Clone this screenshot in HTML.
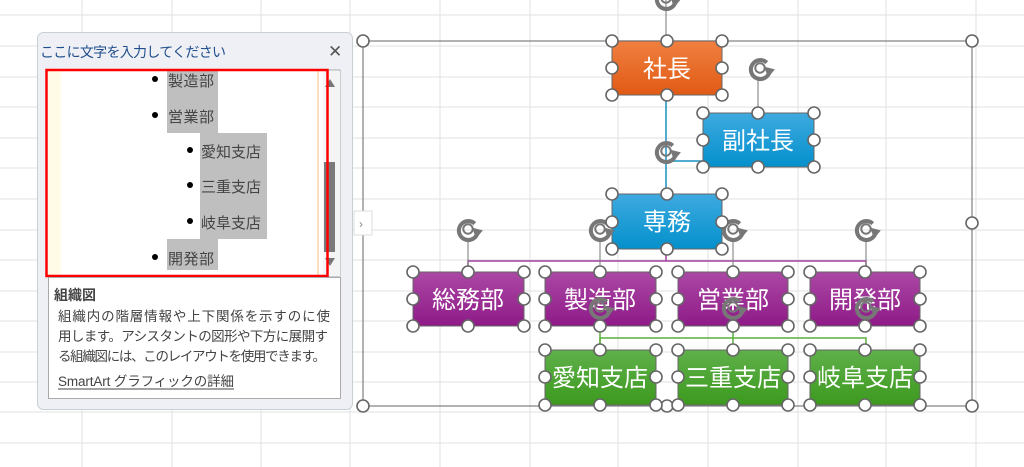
<!DOCTYPE html>
<html><head><meta charset="utf-8"><style>
body{margin:0;width:1024px;height:467px;overflow:hidden;background:#fff;font-family:"Liberation Sans","Noto Sans CJK JP",sans-serif;}
svg{position:absolute;left:0;top:0}
.t{font-family:"Liberation Sans","Noto Sans CJK JP",sans-serif}
</style></head><body>
<svg width="1024" height="467" viewBox="0 0 1024 467">
<defs>
<linearGradient id="go" x1="0" y1="0" x2="0" y2="1"><stop offset="0" stop-color="#f08040"/><stop offset="1" stop-color="#e05a14"/></linearGradient>
<linearGradient id="gb" x1="0" y1="0" x2="0" y2="1"><stop offset="0" stop-color="#3eaae0"/><stop offset="1" stop-color="#0490cc"/></linearGradient>
<linearGradient id="gp" x1="0" y1="0" x2="0" y2="1"><stop offset="0" stop-color="#ab48a4"/><stop offset="1" stop-color="#8e1a88"/></linearGradient>
<linearGradient id="gg" x1="0" y1="0" x2="0" y2="1"><stop offset="0" stop-color="#5fb04a"/><stop offset="1" stop-color="#3c9a1e"/></linearGradient>
<g id="rot"><g transform="scale(1.35)"><path d="M5 -4 A7 7 0 1 0 7 3" fill="none" stroke="#777" stroke-width="3"/><path d="M3 -1 L11 1 L6 7 Z" fill="#777"/><circle r="3.5" fill="none" stroke="#777" stroke-width="1.5"/></g></g>
</defs>
<g stroke="#e2e2e2" stroke-width="1">
<line x1="82" y1="0" x2="82" y2="467"/><line x1="172" y1="0" x2="172" y2="467"/><line x1="261" y1="0" x2="261" y2="467"/><line x1="350" y1="0" x2="350" y2="467"/><line x1="440" y1="0" x2="440" y2="467"/><line x1="530" y1="0" x2="530" y2="467"/><line x1="618" y1="0" x2="618" y2="467"/><line x1="708" y1="0" x2="708" y2="467"/><line x1="798" y1="0" x2="798" y2="467"/><line x1="886" y1="0" x2="886" y2="467"/><line x1="976" y1="0" x2="976" y2="467"/>
<line x1="0" y1="15" x2="1024" y2="15"/><line x1="0" y1="46" x2="1024" y2="46"/><line x1="0" y1="77" x2="1024" y2="77"/><line x1="0" y1="107" x2="1024" y2="107"/><line x1="0" y1="138" x2="1024" y2="138"/><line x1="0" y1="168" x2="1024" y2="168"/><line x1="0" y1="199" x2="1024" y2="199"/><line x1="0" y1="230" x2="1024" y2="230"/><line x1="0" y1="260" x2="1024" y2="260"/><line x1="0" y1="291" x2="1024" y2="291"/><line x1="0" y1="321" x2="1024" y2="321"/><line x1="0" y1="352" x2="1024" y2="352"/><line x1="0" y1="382" x2="1024" y2="382"/><line x1="0" y1="412" x2="1024" y2="412"/><line x1="0" y1="443" x2="1024" y2="443"/>
</g>
<rect x="363" y="41" width="609" height="365" fill="none" stroke="#888" stroke-width="1.3"/>
<line x1="666" y1="95" x2="666" y2="193" stroke="#1a8fc0" stroke-width="1.5"/>
<line x1="666" y1="161" x2="703" y2="161" stroke="#1a8fc0" stroke-width="1.5"/>
<polyline points="468,272 468,261 866,261 866,272" fill="none" stroke="#a040a0" stroke-width="1.5"/>
<line x1="666" y1="249" x2="666" y2="261" stroke="#a040a0" stroke-width="1.5"/>
<polyline points="600,349 600,338 866,338 866,349" fill="none" stroke="#5aaf3c" stroke-width="1.5"/>
<line x1="733" y1="326" x2="733" y2="349" stroke="#5aaf3c" stroke-width="1.5"/>
<line x1="600" y1="326" x2="600" y2="349" stroke="#5aaf3c" stroke-width="1.5"/>
<g stroke="#777" stroke-width="1"><line x1="666" y1="0" x2="666" y2="40"/><line x1="758" y1="78" x2="758" y2="112"/><line x1="468" y1="238" x2="468" y2="272"/><line x1="600" y1="238" x2="600" y2="272"/><line x1="733" y1="238" x2="733" y2="272"/><line x1="866" y1="238" x2="866" y2="272"/></g>
<g stroke="#666" stroke-width="1">
<rect x="612" y="41" width="110" height="54" fill="url(#go)"/>
<rect x="703" y="113" width="111" height="54" fill="url(#gb)"/>
<rect x="612" y="194" width="110" height="55" fill="url(#gb)"/>
<rect x="413" y="272" width="111" height="54" fill="url(#gp)"/>
<rect x="545" y="272" width="111" height="54" fill="url(#gp)"/>
<rect x="678" y="272" width="110" height="54" fill="url(#gp)"/>
<rect x="810" y="272" width="110" height="54" fill="url(#gp)"/>
<rect x="545" y="350" width="111" height="55" fill="url(#gg)"/>
<rect x="678" y="350" width="110" height="55" fill="url(#gg)"/>
<rect x="810" y="350" width="110" height="55" fill="url(#gg)"/>
</g>
<g class="t" fill="#fff" font-size="24" text-anchor="middle">
<text x="667" y="77">社長</text><text x="758" y="149">副社長</text><text x="667" y="230">専務</text>
<text x="468" y="308">総務部</text><text x="600" y="308">製造部</text><text x="733" y="308">営業部</text><text x="865" y="308">開発部</text>
<text x="600" y="386">愛知支店</text><text x="733" y="386">三重支店</text><text x="865" y="386">岐阜支店</text>
</g>
<use href="#rot" x="666" y="-2"/><use href="#rot" x="760" y="68"/><use href="#rot" x="666" y="151"/>
<use href="#rot" x="468" y="229"/><use href="#rot" x="600" y="229"/><use href="#rot" x="733" y="229"/><use href="#rot" x="866" y="229"/>
<use href="#rot" x="600" y="307"/><use href="#rot" x="733" y="307"/><use href="#rot" x="866" y="307"/>
<g fill="#fff" stroke="#666" stroke-width="1.6">
<circle cx="363" cy="41" r="6"/><circle cx="972" cy="41" r="6"/><circle cx="972" cy="223" r="6"/><circle cx="363" cy="406" r="6"/><circle cx="972" cy="406" r="6"/><circle cx="667" cy="406" r="6"/>
<circle cx="612" cy="41" r="6"/><circle cx="667" cy="41" r="6"/><circle cx="722" cy="41" r="6"/><circle cx="612" cy="68" r="6"/><circle cx="722" cy="68" r="6"/><circle cx="612" cy="95" r="6"/><circle cx="667" cy="95" r="6"/><circle cx="722" cy="95" r="6"/>
<circle cx="703" cy="113" r="6"/><circle cx="758" cy="113" r="6"/><circle cx="814" cy="113" r="6"/><circle cx="703" cy="140" r="6"/><circle cx="814" cy="140" r="6"/><circle cx="703" cy="167" r="6"/><circle cx="758" cy="167" r="6"/><circle cx="814" cy="167" r="6"/>
<circle cx="612" cy="194" r="6"/><circle cx="667" cy="194" r="6"/><circle cx="722" cy="194" r="6"/><circle cx="612" cy="222" r="6"/><circle cx="722" cy="222" r="6"/><circle cx="612" cy="249" r="6"/><circle cx="667" cy="249" r="6"/><circle cx="722" cy="249" r="6"/>
<circle cx="413" cy="272" r="6"/><circle cx="468" cy="272" r="6"/><circle cx="524" cy="272" r="6"/><circle cx="413" cy="299" r="6"/><circle cx="524" cy="299" r="6"/><circle cx="413" cy="326" r="6"/><circle cx="468" cy="326" r="6"/><circle cx="524" cy="326" r="6"/>
<circle cx="545" cy="272" r="6"/><circle cx="600" cy="272" r="6"/><circle cx="656" cy="272" r="6"/><circle cx="545" cy="299" r="6"/><circle cx="656" cy="299" r="6"/><circle cx="545" cy="326" r="6"/><circle cx="600" cy="326" r="6"/><circle cx="656" cy="326" r="6"/>
<circle cx="678" cy="272" r="6"/><circle cx="733" cy="272" r="6"/><circle cx="788" cy="272" r="6"/><circle cx="678" cy="299" r="6"/><circle cx="788" cy="299" r="6"/><circle cx="678" cy="326" r="6"/><circle cx="733" cy="326" r="6"/><circle cx="788" cy="326" r="6"/>
<circle cx="810" cy="272" r="6"/><circle cx="865" cy="272" r="6"/><circle cx="920" cy="272" r="6"/><circle cx="810" cy="299" r="6"/><circle cx="920" cy="299" r="6"/><circle cx="810" cy="326" r="6"/><circle cx="865" cy="326" r="6"/><circle cx="920" cy="326" r="6"/>
<circle cx="545" cy="350" r="6"/><circle cx="600" cy="350" r="6"/><circle cx="656" cy="350" r="6"/><circle cx="545" cy="377" r="6"/><circle cx="656" cy="377" r="6"/><circle cx="545" cy="405" r="6"/><circle cx="600" cy="405" r="6"/><circle cx="656" cy="405" r="6"/>
<circle cx="678" cy="350" r="6"/><circle cx="733" cy="350" r="6"/><circle cx="788" cy="350" r="6"/><circle cx="678" cy="377" r="6"/><circle cx="788" cy="377" r="6"/><circle cx="678" cy="405" r="6"/><circle cx="733" cy="405" r="6"/><circle cx="788" cy="405" r="6"/>
<circle cx="810" cy="350" r="6"/><circle cx="865" cy="350" r="6"/><circle cx="920" cy="350" r="6"/><circle cx="810" cy="377" r="6"/><circle cx="920" cy="377" r="6"/><circle cx="810" cy="405" r="6"/><circle cx="865" cy="405" r="6"/><circle cx="920" cy="405" r="6"/>
</g>
<rect x="354" y="211" width="18" height="24" fill="#fff" stroke="#ddd"/>
<text x="359" y="228" font-size="12" fill="#888" class="t">›</text>
<rect x="37.5" y="32.5" width="315" height="377" rx="6" fill="#eff0f5" stroke="#c8d0d4"/>
<text x="40" y="57" class="t" font-size="14" fill="#1f4e8c" textLength="186">ここに文字を入力してください</text>
<text x="328" y="57" class="t" font-size="17" fill="#555">✕</text>
<rect x="47" y="70" width="293" height="206" fill="#fff" stroke="#aaa"/>
<rect x="48" y="71" width="13" height="205" fill="#fffbe6"/>
<line x1="318" y1="71" x2="318" y2="276" stroke="#f5c080"/>
<rect x="323" y="71" width="17" height="205" fill="#f4f4f4"/>
<rect x="324" y="162" width="11" height="90" fill="#7a7a7a"/>
<path d="M325 87 L330 79 L335 87 Z M325 258 L330 266 L335 258 Z" fill="#777"/>
<path d="M167 71 H218 V133 H267 V239 H218 V270 H167 V239 H200 V133 H167 Z" fill="#bfbfbf"/>
<g fill="#000"><circle cx="155" cy="79" r="3"/><circle cx="155" cy="115" r="3"/><circle cx="190" cy="150" r="3"/><circle cx="190" cy="185" r="3"/><circle cx="190" cy="221" r="3"/><circle cx="155" cy="257" r="3"/></g>
<g class="t" font-size="15" fill="#444">
<text x="168" y="86" textLength="46">製造部</text><text x="168" y="122" textLength="46">営業部</text><text x="201" y="157" textLength="60">愛知支店</text><text x="201" y="192" textLength="60">三重支店</text><text x="201" y="228" textLength="60">岐阜支店</text><text x="168" y="264" textLength="46">開発部</text>
</g>
<rect x="46.5" y="70" width="281" height="206" fill="none" stroke="#f00" stroke-width="2.5"/>
<rect x="48.5" y="277.5" width="292" height="121" fill="#fff" stroke="#aaa"/>
<g class="t" fill="#444">
<text x="54" y="300" font-size="14" font-weight="bold">組織図</text>
<text x="58" y="321" font-size="13.5" textLength="272">組織内の階層情報や上下関係を示すのに使</text>
<text x="58" y="341" font-size="13.5" textLength="270">用します。アシスタントの図形や下方に展開す</text>
<text x="58" y="361" font-size="13.5" textLength="268">る組織図には、このレイアウトを使用できます。</text>
<text x="58" y="386" font-size="13.5" textLength="176">SmartArt グラフィックの詳細</text>
</g>
<line x1="58" y1="389" x2="234" y2="389" stroke="#444"/>
</svg>
</body></html>
